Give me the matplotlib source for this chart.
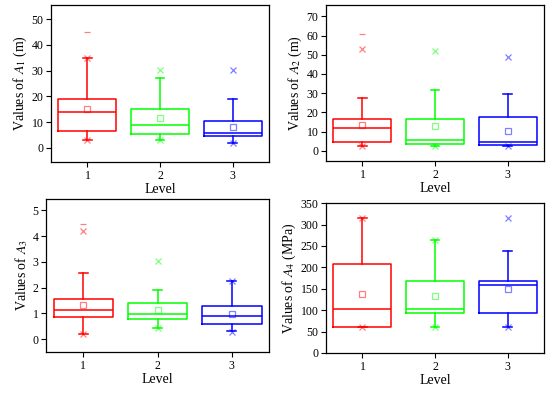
import numpy as np
import matplotlib
matplotlib.use("Agg")
import matplotlib.pyplot as plt

plt.rcParams['font.family'] = ['Liberation Serif', 'DejaVu Serif']
plt.rcParams['mathtext.fontset'] = 'stix'

levels = [1, 2, 3]
colors = ['#ff0000', '#00ff00', '#0000ff']

# box statistics per panel: (q1, median, q3, whisker low, whisker high, mean)
a1_q1 = [6.5, 5.3, 4.7]
a1_med = [14.0, 8.7, 5.7]
a1_q3 = [19.0, 15.0, 10.6]
a1_lo = [3.1, 3.1, 1.9]
a1_hi = [35.1, 27.0, 19.0]
a1_mean = [14.9, 11.4, 8.0]
a1_p99 = [35.1, 30.1, 30.1]
a1_p1 = [3.1, 3.1, 1.9]
a1_max = [45.0, None, None]

a2_q1 = [4.7, 3.6, 3.3]
a2_med = [11.8, 5.9, 4.7]
a2_q3 = [16.8, 16.8, 17.7]
a2_lo = [2.4, 2.4, 2.4]
a2_hi = [27.6, 31.7, 29.6]
a2_mean = [13.7, 12.8, 10.6]
a2_p99 = [52.9, 52.0, 48.9]
a2_p1 = [2.4, 2.4, 2.4]
a2_max = [60.8, None, None]

a3_q1 = [0.88, 0.78, 0.58]
a3_med = [1.13, 0.98, 0.92]
a3_q3 = [1.58, 1.39, 1.30]
a3_lo = [0.21, 0.44, 0.32]
a3_hi = [2.58, 1.93, 2.25]
a3_mean = [1.33, 1.13, 0.98]
a3_p99 = [4.2, 3.02, 2.28]
a3_p1 = [0.21, 0.44, 0.30]
a3_max = [4.48, None, None]

a4_q1 = [60.3, 92.7, 92.7]
a4_med = [102.8, 102.8, 159.2]
a4_q3 = [208.0, 169.2, 169.2]
a4_lo = [60.3, 60.3, 60.3]
a4_hi = [314.5, 264.3, 238.0]
a4_mean = [136.8, 133.7, 148.4]
a4_p99 = [314.5, 264.3, 314.5]
a4_p1 = [60.3, 60.3, 60.3]
a4_max = [None, None, None]

panels = [
    (a1_q1, a1_med, a1_q3, a1_lo, a1_hi, a1_mean, a1_p99, a1_p1, a1_max,
     r'Values of $\mathit{A}_1$ (m)', (-5.5, 55.5), [0, 10, 20, 30, 40, 50]),
    (a2_q1, a2_med, a2_q3, a2_lo, a2_hi, a2_mean, a2_p99, a2_p1, a2_max,
     r'Values of $\mathit{A}_2$ (m)', (-5.3, 75.8), [0, 10, 20, 30, 40, 50, 60, 70]),
    (a3_q1, a3_med, a3_q3, a3_lo, a3_hi, a3_mean, a3_p99, a3_p1, a3_max,
     r'Values of $\mathit{A}_3$', (-0.5, 5.45), [0, 1, 2, 3, 4, 5]),
    (a4_q1, a4_med, a4_q3, a4_lo, a4_hi, a4_mean, a4_p99, a4_p1, a4_max,
     r'Values of $\mathit{A}_4$ (MPa)', (0, 350), [0, 50, 100, 150, 200, 250, 300, 350]),
]

positions = [
    [0.093, 0.588, 0.396, 0.399],
    [0.593, 0.590, 0.396, 0.397],
    [0.084, 0.104, 0.405, 0.390],
    [0.593, 0.102, 0.396, 0.381],
]

fig = plt.figure(figsize=(5.5, 3.93), dpi=100)

for pos, (q1, med, q3, lo, hi, mean, p99, p1, mx, ylabel, ylim, yticks) in zip(positions, panels):
    ax = fig.add_axes(pos)
    for i, lev in enumerate(levels):
        c = colors[i]
        stats = [dict(q1=q1[i], med=med[i], q3=q3[i], whislo=lo[i],
                      whishi=hi[i], mean=mean[i], fliers=[])]
        ax.bxp(stats, positions=[lev], widths=0.8, capwidths=0.12,
               showmeans=True, showfliers=False,
               boxprops=dict(color=c, lw=1.1),
               medianprops=dict(color=c, lw=1.1),
               whiskerprops=dict(color=c, lw=1.1),
               capprops=dict(color=c, lw=1.1),
               meanprops=dict(marker='s', markerfacecolor='none',
                              markeredgecolor=c, alpha=0.5, markersize=4,
                              markeredgewidth=0.9))
        ax.plot([lev, lev], [p99[i], p1[i]], ls='none', marker='x',
                color=c, alpha=0.5, markersize=5, mew=0.9)
        if mx[i] is not None:
            ax.plot([lev], [mx[i]], ls='none', marker='_', color=c,
                    alpha=0.5, markersize=5, mew=0.9)
    ax.set_xlim(0.5, 3.5)
    ax.set_ylim(*ylim)
    ax.set_xticks(levels)
    ax.set_xticklabels([str(v) for v in levels])
    ax.set_yticks(yticks)
    ax.tick_params(labelsize=8.5, length=3.5, width=0.8, direction='out',
                   pad=2)
    for s in ax.spines.values():
        s.set_linewidth(0.9)
    ax.set_xlabel('Level', fontsize=10, labelpad=1)
    ax.set_ylabel(ylabel, fontsize=10, labelpad=2)

fig.savefig('out.png', dpi=100)
